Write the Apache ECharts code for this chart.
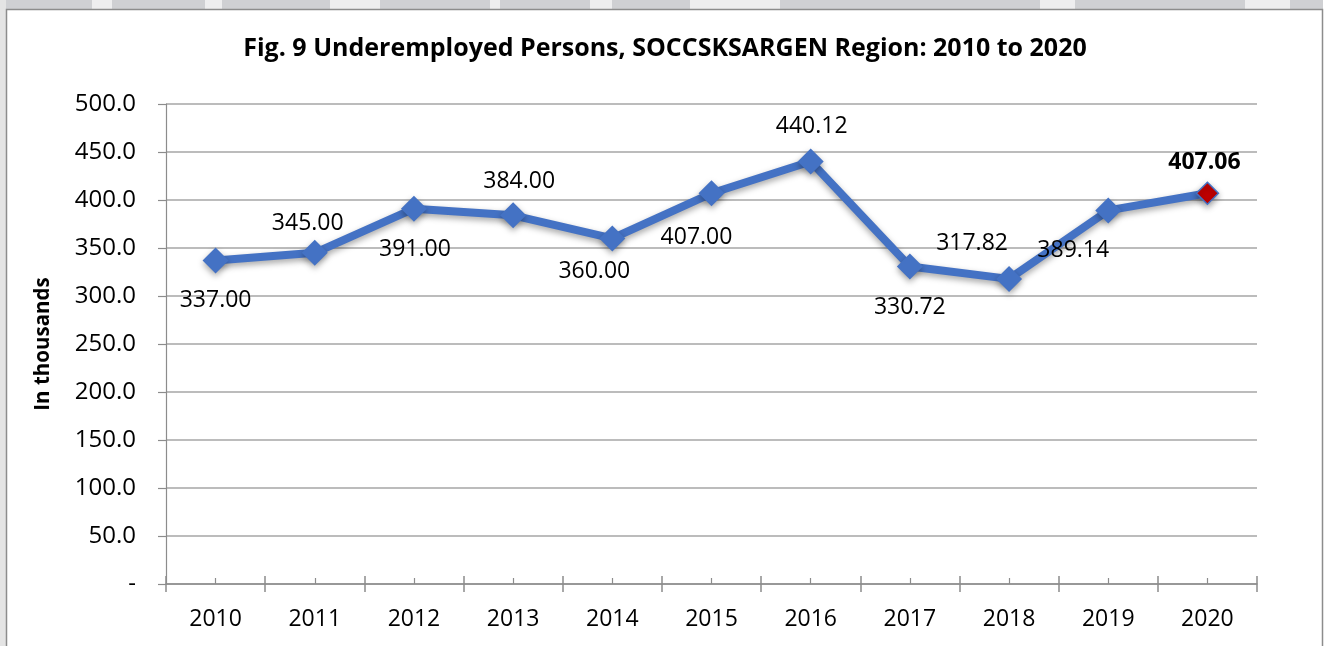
<!DOCTYPE html>
<html>
<head>
<meta charset="utf-8">
<script src="https://cdn.jsdelivr.net/npm/echarts@6/dist/echarts.min.js"></script>
<style>
  html, body { margin: 0; padding: 0; background: #fff; }
  #chart { width: 1330px; height: 646px; }
</style>
</head>
<body>
<div id="chart"></div>
<script>
// Data
const years = ['2010', '2011', '2012', '2013', '2014', '2015', '2016', '2017', '2018', '2019', '2020'];
const persons = [337.00, 345.00, 391.00, 384.00, 360.00, 407.00, 440.12, 330.72, 317.82, 389.14, 407.06];
const yTicks = [0, 50, 100, 150, 200, 250, 300, 350, 400, 450, 500];

// Label placement (style only): offset from the marker centre
const labelOffsets = [
    [0, 40], [-7, -29], [1, 41], [6, -34], [-18, 33], [-15, 44],
    [1, -35], [0, 41], [-37, -35], [-35, 40], [-3, -31]
];

const FONT = '"Open Sans", "DejaVu Sans", sans-serif';
const BLUE = '#4472C4';
const GRID_GREY = '#a6a6a6';

const seriesData = persons.map((v, i) => {
    const item = {
        value: v,
        label: {offset: labelOffsets[i]}
    };
    if (i === persons.length - 1) {
        item.symbolSize = 22;
        item.itemStyle = {color: '#C00000', borderColor: BLUE, borderWidth: 1.5};
        item.label.fontWeight = 'bold';
    }
    return item;
});

// top header strip of the page behind the chart box
const stripGaps = [[92, 112], [205, 222], [330, 380], [490, 500], [590, 612], [690, 780], [1040, 1075], [1245, 1290]];
const graphics = [
    {type: 'rect', shape: {x: 0, y: 0, width: 1330, height: 9}, style: {fill: '#cfd0d3'}, z: -10},
    {type: 'rect', shape: {x: 0, y: 0, width: 6, height: 646}, style: {fill: '#e4e4e4'}, z: -10},
    {type: 'rect', shape: {x: 1323, y: 0, width: 7, height: 646}, style: {fill: '#ffffff'}, z: -10}
];
stripGaps.forEach(g => {
    graphics.push({type: 'rect', shape: {x: g[0], y: 0, width: g[1] - g[0], height: 9}, style: {fill: '#eeeeef'}, z: -9});
});
graphics.push({
    type: 'rect',
    shape: {x: 6.5, y: 9.5, width: 1316, height: 650},
    style: {fill: '#ffffff', stroke: '#8c8c8c', lineWidth: 1.5},
    z: -8
});

const chart = echarts.init(document.getElementById('chart'), null, {renderer: 'canvas'});

const option = {
    backgroundColor: '#ffffff',
    animation: false,
    graphic: graphics,
    title: {
        text: 'Fig. 9 Underemployed Persons, SOCCSKSARGEN Region: 2010 to 2020',
        left: 'center',
        top: 31,
        textStyle: {fontFamily: FONT, fontSize: 25, fontWeight: 'bold', color: '#000'}
    },
    grid: {left: 166, top: 104, width: 1091, height: 480},
    xAxis: [
        {
            type: 'category',
            data: years,
            boundaryGap: true,
            axisLine: {lineStyle: {color: '#8c8c8c', width: 1.5}},
            axisTick: {show: true, interval: 0, length: 8, lineStyle: {color: '#8c8c8c', width: 1.5}},
            axisLabel: {interval: 0, margin: 24, fontFamily: FONT, fontSize: 23, color: '#000'},
            splitLine: {show: false}
        },
        {
            type: 'category',
            data: years,
            position: 'bottom',
            boundaryGap: true,
            axisLine: {show: false},
            axisTick: {show: true, inside: true, interval: 0, length: 8, lineStyle: {color: '#8c8c8c', width: 1.5}},
            axisLabel: {show: false},
            splitLine: {show: false}
        },
        {
            type: 'category',
            data: years,
            position: 'bottom',
            boundaryGap: true,
            axisLine: {show: false},
            axisTick: {show: true, inside: true, alignWithLabel: true, interval: 0, length: 6, lineStyle: {color: '#8c8c8c', width: 1.2}},
            axisLabel: {show: false},
            splitLine: {show: false}
        }
    ],
    yAxis: {
        type: 'value',
        min: yTicks[0],
        max: yTicks[yTicks.length - 1],
        interval: 50,
        name: 'In thousands',
        nameLocation: 'middle',
        nameRotate: 90,
        nameGap: 112,
        nameTextStyle: {fontFamily: FONT, fontSize: 20.5, fontWeight: 'bold', color: '#000'},
        axisLine: {show: true, lineStyle: {color: '#8c8c8c', width: 1.2}},
        axisTick: {show: true, length: 8, lineStyle: {color: '#8c8c8c', width: 1.2}},
        axisLabel: {
            margin: 30,
            fontFamily: FONT,
            fontSize: 24,
            color: '#000',
            formatter: v => (v === 0 ? '-' : v.toFixed(1))
        },
        splitLine: {show: true, lineStyle: {color: GRID_GREY, width: 1.5}}
    },
    series: [{
        type: 'line',
        xAxisIndex: 0,
        data: seriesData,
        symbol: 'diamond',
        symbolSize: 26,
        lineStyle: {
            color: BLUE,
            width: 8,
            shadowColor: 'rgba(0,0,0,0.35)',
            shadowBlur: 6,
            shadowOffsetY: 3
        },
        itemStyle: {
            color: BLUE,
            shadowColor: 'rgba(0,0,0,0.35)',
            shadowBlur: 6,
            shadowOffsetY: 3
        },
        label: {
            show: true,
            position: 'inside',
            fontFamily: FONT,
            fontSize: 23,
            color: '#000',
            formatter: p => p.value.toFixed(2)
        },
        emphasis: {disabled: true}
    }]
};

chart.setOption(option);
window.addEventListener('resize', chart.resize);
</script>
</body>
</html>
